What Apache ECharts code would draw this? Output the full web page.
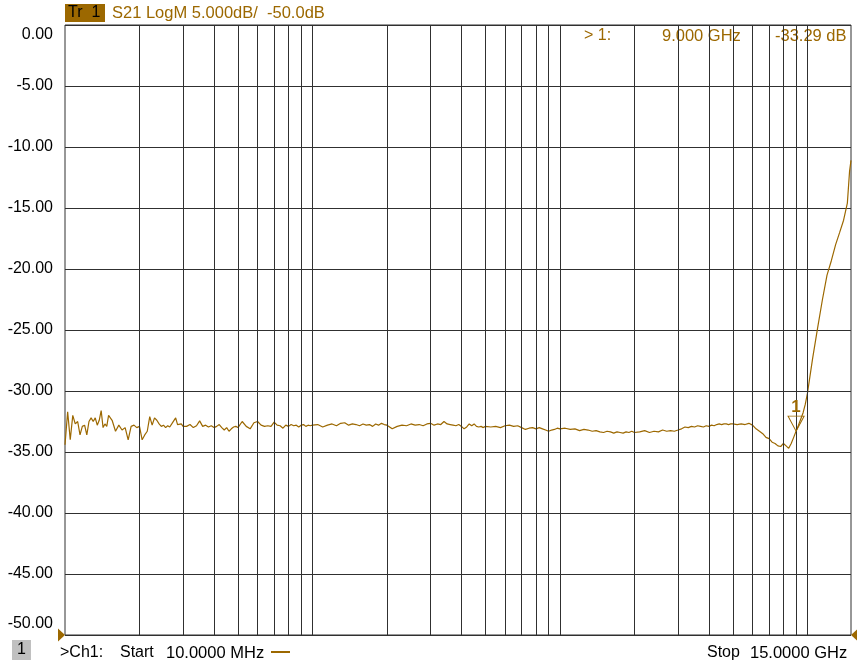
<!DOCTYPE html>
<html>
	<head>
		<meta charset="utf-8">
		<title>S21 LogM</title>
		<script type="text/javascript" src="https://cdn.jsdelivr.net/npm/echarts@6/dist/echarts.min.js"></script>
		<style>
			html, body { margin: 0; padding: 0; background: #fff; }
			#chart { width: 857px; height: 664px; }
		</style>
	</head>
	<body>
		<div id="chart"></div>
		<script type="text/javascript">
			// sweep points, MHz
			var freqMHz = [
				10, 10.25, 10.5, 10.75, 11, 11.25, 11.5, 11.75, 12, 12.25, 12.5, 12.75, 13, 13.25, 13.5, 13.75, 14, 14.25, 14.5, 14.75, 15,
				15.5, 16, 16.5, 17, 17.5, 18, 18.5, 19, 19.5, 20,
				20.5, 21, 21.5, 22, 22.5, 23, 23.5, 24, 24.5, 25, 25.5, 26, 26.5, 27, 27.5, 28, 28.5, 29, 29.5, 30,
				31, 32, 33, 34, 35, 36, 37, 38, 39, 40, 41, 42, 43, 44, 45, 46, 47, 48, 49, 50,
				52, 54, 56, 58, 60, 62, 64, 66, 68, 70, 72, 74, 76, 78, 80, 82, 84, 86, 88, 90, 92, 94, 96, 98, 100,
				105, 110, 115, 120, 125, 130, 135, 140, 145, 150, 155, 160, 165, 170, 175, 180, 185, 190, 195, 200,
				210, 220, 230, 240, 250, 260, 270, 280, 290, 300, 310, 320, 330, 340, 350, 360, 370, 380, 390, 400,
				410, 420, 430, 440, 450, 460, 470, 480, 490, 500,
				525, 550, 575, 600, 625, 650, 675, 700, 725, 750, 775, 800, 825, 850, 875, 900, 925, 950, 975, 1000,
				1050, 1100, 1150, 1200, 1250, 1300, 1350, 1400, 1450, 1500, 1550, 1600, 1650, 1700, 1750, 1800, 1850, 1900, 1950, 2000,
				2100, 2200, 2300, 2400, 2500, 2600, 2700, 2800, 2900, 3000, 3100, 3200, 3300, 3400, 3500, 3600, 3700, 3800, 3900, 4000,
				4100, 4200, 4300, 4400, 4500, 4600, 4700, 4800, 4900, 5000,
				5200, 5400, 5600, 5800, 6000, 6200, 6400, 6600, 6800, 7000, 7200, 7400, 7600, 7800, 8000,
				8200, 8400, 8600, 8800, 9000, 9200, 9400, 9600, 9800, 10000,
				10500, 11000, 11500, 12000, 12500, 13000, 13500, 14000, 14500, 14800, 15000
			];
			// S21 magnitude, dB
			var s21dB = [
				-34.4, -31.7, -34.0, -32.0, -32.7, -32.5, -33.6, -32.9, -32.8, -33.6, -32.5, -32.2, -32.5, -32.2, -32.8, -32.4, -31.6, -33.0, -32.7, -32.9, -32.0,
				-32.4, -33.3, -32.8, -33.2, -33.0, -34.0, -32.9, -32.8, -33.0, -32.9,
				-34.0, -33.6, -33.3, -32.1, -32.8, -32.2, -32.4, -32.7, -32.9, -32.8, -33.0, -32.85, -32.95, -32.7, -32.6, -32.2, -32.75, -32.85, -32.7, -32.9,
				-32.9, -32.75, -33.0, -32.85, -32.45, -32.9, -32.8, -32.95, -32.85, -33.0, -32.9, -32.75, -33.0, -33.2, -33.0, -33.3, -33.1, -32.95, -32.9, -33.0,
				-32.5, -32.9, -33.1, -32.6, -32.5, -32.8, -32.9, -32.85, -32.9, -32.55, -32.8, -32.85, -33.05, -32.8, -32.9, -32.75, -32.85, -32.8, -32.95, -32.8, -32.75, -32.9, -32.8, -32.85, -32.8,
				-32.75, -32.95, -32.8, -32.7, -32.85, -32.65, -32.6, -32.8, -32.7, -32.75, -32.85, -32.7, -32.8, -32.75, -32.9, -32.7, -32.8, -32.65, -32.75, -32.8,
				-33.1, -32.9, -32.8, -32.85, -32.7, -32.8, -32.75, -32.85, -32.7, -32.65, -32.8, -32.7, -32.75, -32.5, -32.7, -32.75, -32.8, -32.85, -32.75, -32.9,
				-33.1, -32.95, -32.7, -32.85, -32.7, -32.9, -32.95, -32.9, -33.0, -32.9,
				-32.95, -32.9, -33.0, -32.85, -32.8, -32.9, -32.85, -33.0, -33.15, -33.05, -33.0, -33.1, -33.0, -33.1, -33.2, -33.3, -33.2, -33.15, -33.05, -33.1,
				-33.05, -33.15, -33.1, -33.25, -33.15, -33.2, -33.3, -33.25, -33.35, -33.4, -33.3, -33.35, -33.45, -33.35, -33.4, -33.45, -33.35, -33.4, -33.3, -33.4,
				-33.35, -33.25, -33.4, -33.3, -33.35, -33.2, -33.3, -33.25, -33.3, -33.2, -33.1, -32.95, -33.0, -32.9, -32.95, -32.85, -32.9, -32.95, -32.85, -32.9,
				-32.8, -32.85, -32.75, -32.7, -32.75, -32.7, -32.7, -32.75, -32.7, -32.7,
				-32.75, -32.7, -32.75, -32.65, -32.8, -33.1, -33.3, -33.5, -33.8, -33.9, -34.2, -34.3, -34.5, -34.55, -34.3,
				-34.5, -34.7, -34.3, -33.8, -33.29, -32.8, -32.3, -31.8, -31.1, -30.2,
				-27.3, -24.8, -22.5, -20.5, -19.3, -18.0, -17.0, -16.0, -14.6, -12.0, -11.1
			];
			// vertical graticule, MHz
			var gridMHz = [
				20, 30, 40, 50, 60, 70, 80, 90, 100,
				200, 300, 400, 500, 600, 700, 800, 900, 1000,
				2000, 3000, 4000, 5000, 6000, 7000, 8000, 9000, 10000
			];
			var markerMHz = 9000;
			var markerdB = -33.29;

			var gold = '#9c6800';
			var gridColor = '#303030';
			var font = 'Liberation Sans, Arial, sans-serif';

			var traceData = [];
			for (var i = 0; i < freqMHz.length; i++) {
				traceData.push([freqMHz[i] * 1e6, s21dB[i]]);
			}
			var gridLines = [];
			for (var i = 0; i < gridMHz.length; i++) {
				gridLines.push({ xAxis: gridMHz[i] * 1e6 });
			}

			function txt(x, y, s, color, size) {
				return { type: 'text', left: x, top: y, style: { text: s, fill: color, font: (size || 16) + 'px ' + font } };
			}

			var myChart = echarts.init(document.getElementById('chart'), null, { renderer: 'canvas' });
			var option = {
				backgroundColor: '#fff',
				animation: false,
				grid: {
					left: 65, right: 6, top: 25, bottom: 29,
					show: true, borderColor: gridColor, borderWidth: 1
				},
				xAxis: {
					type: 'log',
					logBase: 10,
					min: 1e7,
					max: 1.5e10,
					axisLine: { show: false },
					axisTick: { show: false },
					axisLabel: { show: false },
					splitLine: { show: false }
				},
				yAxis: {
					type: 'value',
					min: -50,
					max: 0,
					interval: 5,
					axisLine: { show: false },
					axisTick: { show: false },
					splitLine: { lineStyle: { color: gridColor, width: 1 } },
					axisLabel: {
						margin: 12,
						formatter: function(value) {
							var t = value.toFixed(2);
							if (value == 0) return '{top|' + t + '}';
							if (value == -50) return '{bot|' + t + '}';
							return '{n|' + t + '}';
						},
						rich: {
							n: { color: '#000', fontSize: 16, fontFamily: font },
							top: { color: '#000', fontSize: 16, fontFamily: font, padding: [20, 0, 0, 0] },
							bot: { color: '#000', fontSize: 16, fontFamily: font, padding: [0, 0, 22, 0] }
						}
					}
				},
				series: [{
					// graticule + reference arrows
					type: 'line',
					z: 1,
					silent: true,
					data: [[1e7, -50]],
					showSymbol: false,
					lineStyle: { opacity: 0 },
					markLine: {
						silent: true,
						symbol: ['none', 'none'],
						label: { show: false },
						lineStyle: { color: gridColor, width: 1, type: 'solid' },
						emphasis: { disabled: true },
						data: gridLines
					},
					markPoint: {
						silent: true,
						label: { show: false },
						itemStyle: { color: gold },
						data: [
							{ coord: [1e7, -50], symbol: 'triangle', symbolSize: [13, 7], symbolRotate: -90, symbolOffset: [-3.5, 0] },
							{ coord: [1.5e10, -50], symbol: 'triangle', symbolSize: [13, 7], symbolRotate: 90, symbolOffset: [3.5, 0] }
						]
					}
				}, {
					name: 'S21',
					type: 'line',
					z: 3,
					data: traceData,
					showSymbol: false,
					lineStyle: { color: gold, width: 1.2 },
					markPoint: {
						silent: true,
						data: [{
							coord: [markerMHz * 1e6, markerdB],
							symbol: 'triangle',
							symbolSize: [16, 15],
							symbolRotate: 180,
							symbolOffset: [0, -7.5],
							itemStyle: { color: 'rgba(255,255,255,0)', borderColor: gold, borderWidth: 1 },
							label: {
								show: true, position: 'top', distance: 0, formatter: '1',
								color: gold, fontSize: 17, fontWeight: 'bold', fontFamily: font
							}
						}]
					}
				}],
				graphic: [
					{ type: 'rect', left: 65, top: 4, shape: { width: 40, height: 18 }, style: { fill: gold } },
					txt(68, 5, 'Tr  1', '#000'),
					txt(112, 5, 'S21 LogM 5.000dB/  -50.0dB', gold, 16.5),
					txt(584, 28, '> 1:', gold),
					txt(662, 28, '9.000 GHz', gold, 16.5),
					txt(775, 28, '-33.29 dB', gold, 16.5),
					{ type: 'rect', left: 12, top: 640, shape: { width: 19, height: 20 }, style: { fill: '#c0c0c0' } },
					txt(17, 642, '1', '#000'),
					txt(60, 645, '>Ch1:', '#000'),
					txt(120, 645, 'Start', '#000'),
					txt(166, 645, '10.0000 MHz', '#000', 16.5),
					{ type: 'rect', left: 271, top: 651, shape: { width: 19, height: 2 }, style: { fill: gold } },
					txt(707, 645, 'Stop', '#000'),
					txt(750, 645, '15.0000 GHz', '#000', 16.5)
				]
			};
			myChart.setOption(option);
		</script>
	</body>
</html>
